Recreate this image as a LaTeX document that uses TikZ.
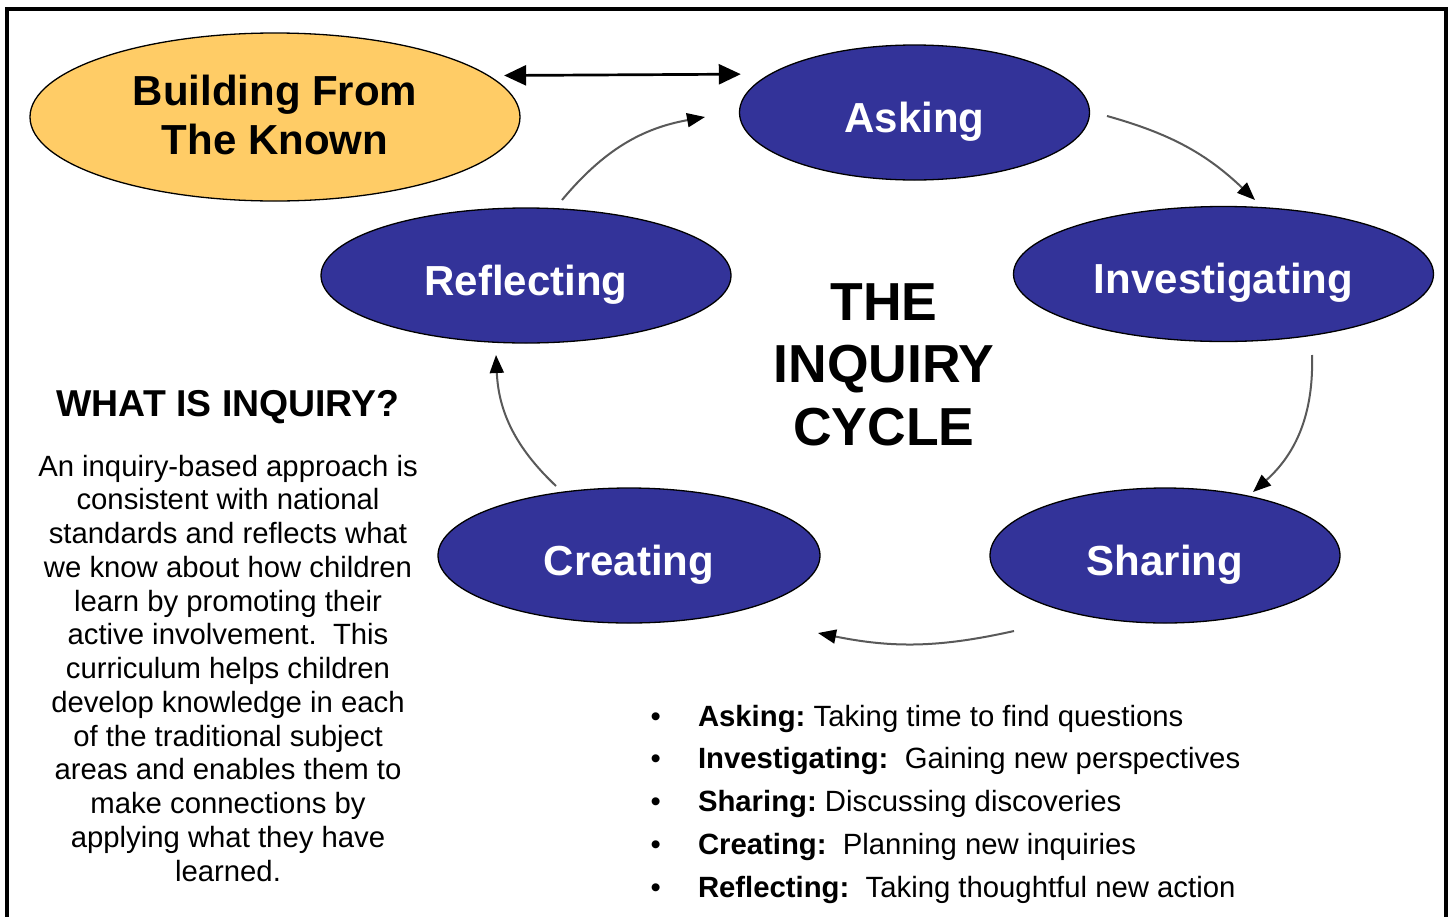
\documentclass[tikz,border=0pt]{standalone}
\usepackage{fontspec}
\setmainfont{Liberation Sans}
\usetikzlibrary{shapes.geometric,arrows.meta}
\definecolor{navy}{RGB}{51,51,153}
\definecolor{gold}{RGB}{255,204,102}
\frenchspacing
\begin{document}
\begin{tikzpicture}[x=1pt,y=1pt,
  phase/.style={ellipse, draw=black, line width=1.3pt, fill=navy, text=white,
    font=\fontsize{42}{49}\selectfont\bfseries, inner sep=0pt, outer sep=0pt,
    text height=39pt, text depth=0pt, minimum height=135pt},
  known/.style={ellipse, draw=black, line width=1.3pt, fill=gold, text=black,
    font=\fontsize{42}{49}\selectfont\bfseries, inner sep=0pt, outer sep=0pt,
    align=center, text height=74pt, text depth=0pt,
    minimum width=490pt, minimum height=168pt},
  flow/.style={draw=black!65, line width=2pt,
    -{Triangle[length=18pt,width=14pt,color=black]}},
  biarrow/.style={draw=black, line width=2.7pt,
    {Triangle[length=22pt,width=20pt]}-{Triangle[length=22pt,width=20pt]}},
  plain/.style={inner sep=0pt, outer sep=0pt, text=black}]
\useasboundingbox (0,0) rectangle (1453,-916);
\fill[white] (0,0) rectangle (1453,-916);
\draw[line width=4pt, line join=miter] (6.5,-940) -- (6.5,-9) -- (1445.5,-9) -- (1445.5,-940);

% nodes
\node[known] (bftk) at (275,-117) {Building From\\The Known};
\node[phase, minimum width=350pt] (ask) at (914.5,-112.5) {Asking};
\node[phase, minimum width=420pt] (inv) at (1223.5,-274) {Investigating};
\node[phase, minimum width=410pt] (ref) at (526,-275.5) {Reflecting};
\node[phase, minimum width=382pt] (cre) at (629,-555.5) {Creating};
\node[phase, minimum width=350pt] (sha) at (1165,-555.5) {Sharing};

% multi-line nodes: base anchor = baseline of the last line
\node[plain, font=\fontsize{53.5}{62.5}\selectfont\bfseries, align=center, anchor=base]
  (title) at (884,-445) {THE\\INQUIRY\\CYCLE};

\node[plain, font=\fontsize{37.4}{40}\selectfont\bfseries, anchor=base]
  (whatq) at (228,-416) {WHAT IS INQUIRY?};

\node[plain, font=\fontsize{29.3}{33.75}\selectfont, align=center, anchor=base]
  (para) at (228,-881) {An inquiry-based approach is\\
  consistent with national\\
  standards and reflects what\\
  we know about how children\\
  learn by promoting their\\
  active involvement.\ \ This\\
  curriculum helps children\\
  develop knowledge in each\\
  of the traditional subject\\
  areas and enables them to\\
  make connections by\\
  applying what they have\\
  learned.};

\node[plain, font=\fontsize{29.3}{42.75}\selectfont, align=left, anchor=base west]
  (defs) at (650.5,-897) {%
  \makebox[47.5pt][l]{\textbullet}\textbf{Asking:} Taking time to find questions\\
  \makebox[47.5pt][l]{\textbullet}\textbf{Investigating:}\ \ Gaining new perspectives\\
  \makebox[47.5pt][l]{\textbullet}\textbf{Sharing:} Discussing discoveries\\
  \makebox[47.5pt][l]{\textbullet}\textbf{Creating:}\ \ Planning new inquiries\\
  \makebox[47.5pt][l]{\textbullet}\textbf{Reflecting:}\ \ Taking thoughtful new action};

% connectors
\draw[biarrow, shorten <=16pt, shorten >=30pt] (bftk.11.5) -- (ask.165.2);

\coordinate (f1s) at (1107,-116);  \coordinate (f1e) at (1255,-200);
\coordinate (f2s) at (1312,-355);  \coordinate (f2e) at (1253,-492);
\coordinate (f3s) at (1014,-631);  \coordinate (f3e) at (818,-633);
\coordinate (f4s) at (556,-486);   \coordinate (f4e) at (496,-355);
\coordinate (f5s) at (562,-200);   \coordinate (f5e) at (705,-117);

\draw[flow] (f1s) to[bend left=14] (f1e);
\draw[flow] (f2s) to[bend left=25] (f2e);
\draw[flow] (f3s) to[bend left=12] (f3e);
\draw[flow] (f4s) to[bend left=22] (f4e);
\draw[flow] (f5s) to[bend left=20] (f5e);
\end{tikzpicture}
\end{document}
